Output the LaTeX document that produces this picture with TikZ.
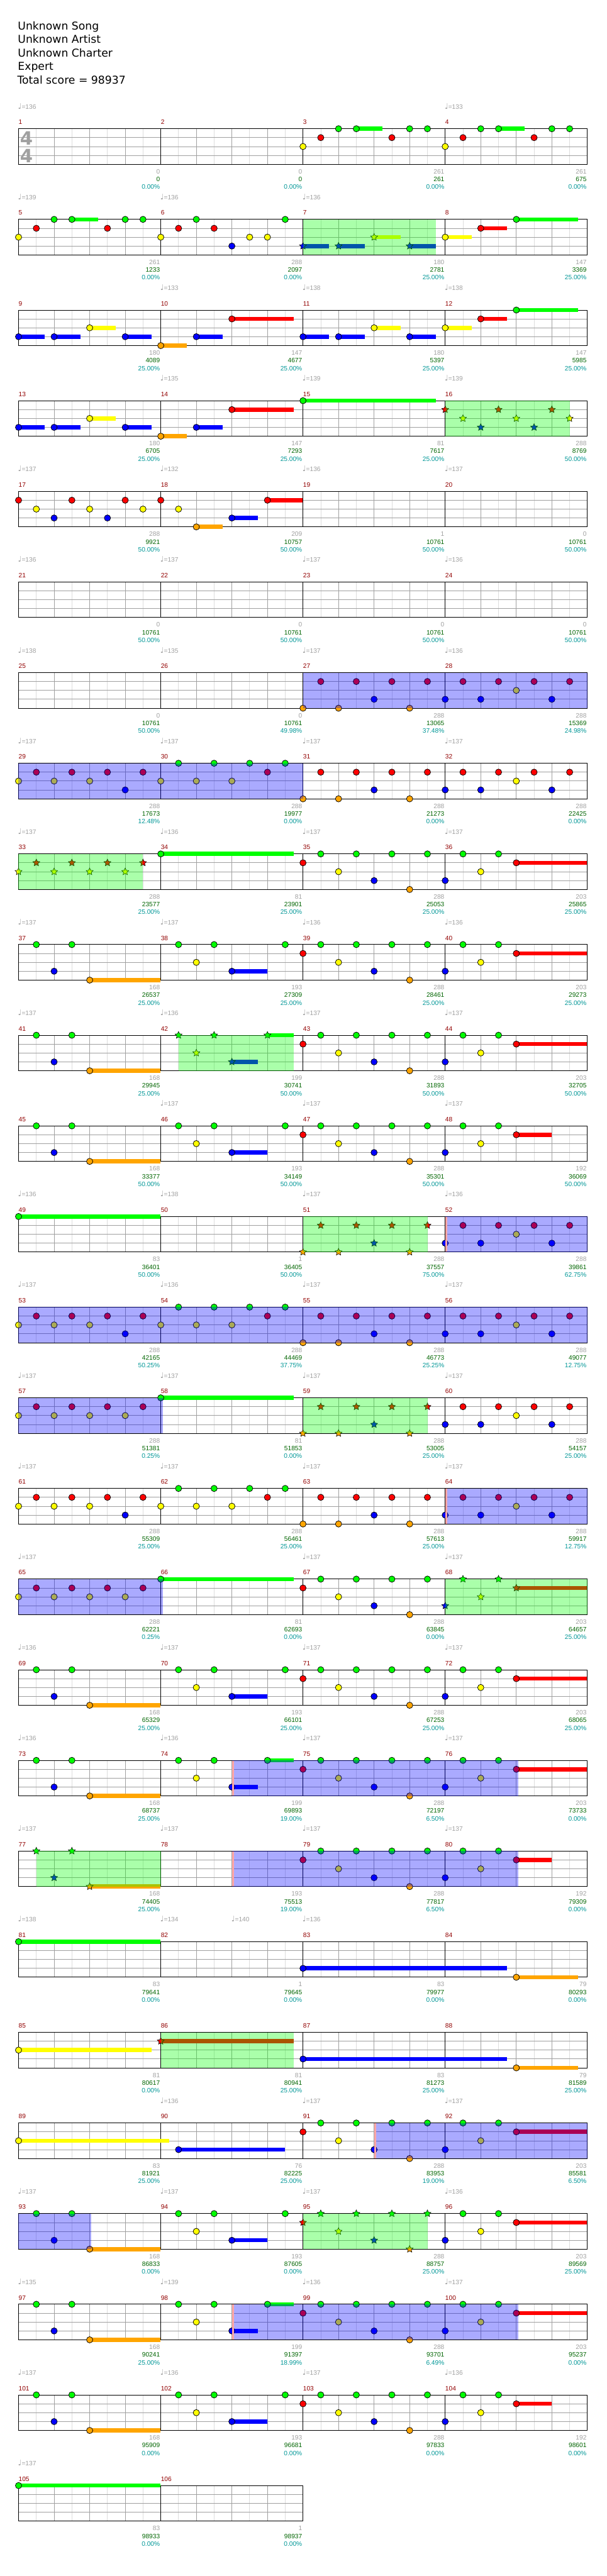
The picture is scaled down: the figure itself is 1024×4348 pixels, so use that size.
\documentclass[tikz,border=0pt]{standalone}
\usepackage{fontspec}
\setmainfont{DejaVu Sans}
\newfontfamily\labelfont{Liberation Sans}
\usepackage{tikz}
\usetikzlibrary{shapes.geometric}

\definecolor{fretgreen}{RGB}{0,255,0}
\definecolor{fretred}{RGB}{255,0,0}
\definecolor{fretyellow}{RGB}{255,255,0}
\definecolor{fretblue}{RGB}{0,0,255}
\definecolor{fretorange}{RGB}{255,165,0}
\colorlet{lane0}{fretgreen}
\colorlet{lane1}{fretred}
\colorlet{lane2}{fretyellow}
\colorlet{lane3}{fretblue}
\colorlet{lane4}{fretorange}
\definecolor{barnum}{RGB}{145,0,0}
\definecolor{softgray}{RGB}{160,160,160}
\definecolor{halfgray}{RGB}{221,221,221}
\definecolor{scoregreen}{RGB}{0,100,0}
\definecolor{pctcyan}{RGB}{0,150,150}

% note patterns: position (eighths) / lane (0 green ... 4 orange) / sustain end
\def\patIntro{0/2/0, 1/1/0, 2/0/0, 3/0/4.5, 5/1/0, 6/0/0, 7/0/0}
\def\patRun{0/2/0, 1/1/0, 2/0/0, 3/1/0, 4/3/0, 5/2/0, 6/2/0, 7/0/0}
\def\patBlueY{0/3/1.5, 2/3/3.5, 4/2/5.5, 6/3/7.5}
\def\patClimb{0/2/1.5, 2/1/3.5, 4/0/7.5}
\def\patDrop{0/4/1.5, 2/3/3.5, 4/1/7.5}
\def\patHoldG{0/0/7.5}
\def\patLongG{0/0/8}
\def\patRYB{0/1/0, 1/2/0, 2/3/0, 3/1/0, 4/2/0, 5/3/0, 6/1/0, 7/2/0}
\def\patFill{0/1/0, 1/2/0, 2/4/3.5, 4/3/5.5, 6/1/8}
\def\patOR{0/4/0, 1/1/0, 2/4/0, 3/1/0, 4/3/0, 5/1/0, 6/4/0, 7/1/0}
\def\patBR{0/3/0, 1/1/0, 2/3/0, 3/1/0, 4/2/0, 5/1/0, 6/3/0, 7/1/0}
\def\patYRB{0/2/0, 1/1/0, 2/2/0, 3/1/0, 4/2/0, 5/1/0, 6/3/0, 7/1/0}
\def\patYG{0/2/0, 1/0/0, 2/2/0, 3/0/0, 4/2/0, 5/0/0, 6/1/0, 7/0/0}
\def\patYR{0/2/0, 1/1/0, 2/2/0, 3/1/0, 4/2/0, 5/1/0, 6/2/0, 7/1/0}
\def\patVerseA{1/0/0, 2/3/0, 3/0/0, 4/4/8}
\def\patVerseB{1/0/0, 2/2/0, 3/0/0, 4/3/6, 7/0/0}
\def\patVerseBs{1/0/0, 2/2/0, 3/0/0, 4/3/5.5, 6/0/7.5}
\def\patVerseC{0/1/0, 1/0/0, 2/2/0, 3/0/0, 4/3/0, 5/0/0, 6/4/0, 7/0/0}
\def\patVerseD{0/3/0, 1/0/0, 2/2/0, 3/0/0, 4/1/8}
\def\patVerseDs{0/3/0, 1/0/0, 2/2/0, 3/0/0, 4/1/6}
\def\patBlueHold{0/3/11.5}
\def\patOrangeHold{4/4/7.5}
\def\patYellowHold{0/2/7.5}
\def\patRedHold{0/1/7.5}
\def\patYellowLong{0/2/8.5}
\def\patBlueLate{1/3/7}

% one measure of gems: measure, pattern, gem style
\newcommand\drawbar[3]{%
  \pgfmathsetmacro\mx{31.3+240*mod(#1-1,4)}
  \pgfmathsetmacro\my{217.3+153*floor((#1-1)/4)}
  \foreach \p/\l/\e in #2 {
    \ifdim\e pt>0pt
      \draw[sustain, draw=lane\l] (\mx+30*\p,\my+15*\l) -- (\mx+30*\e-0.6,\my+15*\l);
    \fi
  }
  \foreach \p/\l/\e in #2 {
    \node[#3, fill=lane\l] (g#1-\p-\l) at (\mx+30*\p,\my+15*\l) {};
  }
}

\tikzset{
  staffbox/.style={draw=black, line width=1pt},
  laneline/.style={draw=softgray, line width=0.9pt},
  halfline/.style={draw=halfgray, line width=0.9pt},
  beatline/.style={draw=softgray, line width=0.9pt},
  barline/.style={draw=black, line width=1pt},
  sustain/.style={line width=7pt},
  gem/.style={circle, draw=black, line width=0.8pt, minimum size=10.6pt, inner sep=0pt},
  stargem/.style={star, star points=5, star point ratio=2.1, draw=black, line width=0.6pt,
                  minimum size=12.5pt, inner sep=0pt},
  spphrase/.style={fill=fretgreen, fill opacity=0.333},
  spactive/.style={fill=fretblue, fill opacity=0.333},
  spstart/.style={fill=fretred!35},
  smalltext/.style={inner sep=0pt, font=\labelfont\fontsize{10.8}{12}\selectfont},
  barnumber/.style={smalltext, text=barnum, anchor=base west},
  tempo/.style={inner sep=0pt, text=softgray, anchor=base west},
  countlabel/.style={smalltext, anchor=base east},
  header/.style={inner sep=0pt, anchor=base west, font=\fontsize{18.3}{22}\selectfont}
}

\begin{document}
\begin{tikzpicture}[x=1pt, y=-1pt]
    \useasboundingbox (0,0) rectangle (1024,4348);

    % Song header
    \node[header] (song) at (30,50) {Unknown Song};
    \node[header] (artist) at (30,72.7) {Unknown Artist};
    \node[header] (charter) at (30,95.7) {Unknown Charter};
    \node[header] (diff) at (30,118.7) {Expert};
    \node[header] (total) at (29,141.7) {Total score = 98937};

    % Staff rows (4 measures each, last row 2)
    \foreach \r in {0,...,26} {
        \ifnum\r=26 \def\nm{2}\else\def\nm{4}\fi
        \pgfmathsetmacro\rowy{217.3+153*\r}
        \pgfmathtruncatemacro\nk{8*\nm-1}
        \pgfmathtruncatemacro\nb{4*\nm-1}
        \pgfmathtruncatemacro\nl{\nm-1}
        \foreach \k in {1,...,\nk}
            \draw[halfline] (31.3+30*\k,\rowy) -- ++(0,60);
        \foreach \k in {1,...,\nb}
            \draw[beatline] (31.3+60*\k,\rowy) -- ++(0,60);
        \foreach \j in {1,2,3}
            \draw[laneline] (31.3,\rowy+15*\j) -- ++(240*\nm,0);
        \foreach \k in {1,...,\nl}
            \draw[barline] (31.3+240*\k,\rowy) -- ++(0,60);
        \draw[staffbox] (31.3,\rowy) rectangle ++(240*\nm,60);
    }

    % Time signature
    \node[text=softgray, font=\bfseries\fontsize{31}{31}\selectfont, inner sep=0pt] (sigtop) at (44.5,233.5) {4};
    \node[text=softgray, font=\bfseries\fontsize{31}{31}\selectfont, inner sep=0pt] (sigbot) at (44.5,263.5) {4};

    % Measure numbers
    \foreach \m in {1,...,106} {
        \pgfmathsetmacro\mx{31.3+240*mod(\m-1,4)}
        \pgfmathsetmacro\my{217.3+153*floor((\m-1)/4)}
        \node[barnumber] (num\m) at (\mx,\my-7.3) {\m};
    }

    % Tempo marks: measure / offset / bpm
    \foreach \m/\o/\bpm in {1/0/136, 4/0/133, 5/0/139, 6/0/136, 7/0/136, 10/0/133, 11/0/138, 12/0/138,
        14/0/135, 15/0/139, 16/0/139, 17/0/137, 18/0/132, 19/0/136, 20/0/137, 21/0/136, 22/0/137,
        23/0/137, 24/0/136, 25/0/138, 26/0/135, 27/0/137, 28/0/136, 29/0/137, 30/0/137, 31/0/137,
        32/0/137, 33/0/137, 34/0/136, 35/0/137, 36/0/137, 37/0/137, 38/0/137, 39/0/136, 40/0/136,
        41/0/137, 42/0/136, 43/0/137, 44/0/137, 46/0/137, 47/0/137, 48/0/137, 49/0/136, 50/0/138,
        51/0/137, 52/0/136, 53/0/137, 54/0/136, 55/0/137, 56/0/137, 57/0/137, 58/0/137, 59/0/137,
        60/0/137, 61/0/137, 62/0/137, 63/0/137, 64/0/137, 65/0/137, 67/0/137, 68/0/137, 69/0/136,
        70/0/137, 71/0/137, 72/0/137, 73/0/136, 74/0/136, 75/0/137, 76/0/137, 77/0/137, 78/0/137,
        79/0/137, 80/0/137, 81/0/138, 82/0/134, 82/4/140, 83/0/136, 90/0/136, 91/0/137, 92/0/137,
        93/0/137, 94/0/137, 95/0/137, 96/0/136, 97/0/135, 98/0/139, 99/0/136, 100/0/137, 101/0/137,
        102/0/136, 103/0/137, 104/0/136, 105/0/137} {
        \pgfmathsetmacro\tx{31.3+240*mod(\m-1,4)+30*\o}
        \pgfmathsetmacro\ty{217.3+153*floor((\m-1)/4)-33.4}
        \node[tempo] (t\m-\o) at (\tx-1,\ty) {\fontsize{13}{13}\selectfont ♩\labelfont\fontsize{10.8}{12}\selectfont=\bpm};
    }

    % Counts under each measure: measure / notes / score / star %
    \foreach \m/\g/\s/\c in {1/0/0/0.00, 2/0/0/0.00, 3/261/261/0.00, 4/261/675/0.00,
        5/261/1233/0.00, 6/288/2097/0.00, 7/180/2781/25.00, 8/147/3369/25.00,
        9/180/4089/25.00, 10/147/4677/25.00, 11/180/5397/25.00, 12/147/5985/25.00,
        13/180/6705/25.00, 14/147/7293/25.00, 15/81/7617/25.00, 16/288/8769/50.00,
        17/288/9921/50.00, 18/209/10757/50.00, 19/1/10761/50.00, 20/0/10761/50.00,
        21/0/10761/50.00, 22/0/10761/50.00, 23/0/10761/50.00, 24/0/10761/50.00,
        25/0/10761/50.00, 26/0/10761/49.98, 27/288/13065/37.48, 28/288/15369/24.98,
        29/288/17673/12.48, 30/288/19977/0.00, 31/288/21273/0.00, 32/288/22425/0.00,
        33/288/23577/25.00, 34/81/23901/25.00, 35/288/25053/25.00, 36/203/25865/25.00,
        37/168/26537/25.00, 38/193/27309/25.00, 39/288/28461/25.00, 40/203/29273/25.00,
        41/168/29945/25.00, 42/199/30741/50.00, 43/288/31893/50.00, 44/203/32705/50.00,
        45/168/33377/50.00, 46/193/34149/50.00, 47/288/35301/50.00, 48/192/36069/50.00,
        49/83/36401/50.00, 50/1/36405/50.00, 51/288/37557/75.00, 52/288/39861/62.75,
        53/288/42165/50.25, 54/288/44469/37.75, 55/288/46773/25.25, 56/288/49077/12.75,
        57/288/51381/0.25, 58/81/51853/0.00, 59/288/53005/25.00, 60/288/54157/25.00,
        61/288/55309/25.00, 62/288/56461/25.00, 63/288/57613/25.00, 64/288/59917/12.75,
        65/288/62221/0.25, 66/81/62693/0.00, 67/288/63845/0.00, 68/203/64657/25.00,
        69/168/65329/25.00, 70/193/66101/25.00, 71/288/67253/25.00, 72/203/68065/25.00,
        73/168/68737/25.00, 74/199/69893/19.00, 75/288/72197/6.50, 76/203/73733/0.00,
        77/168/74405/25.00, 78/193/75513/19.00, 79/288/77817/6.50, 80/192/79309/0.00,
        81/83/79641/0.00, 82/1/79645/0.00, 83/83/79977/0.00, 84/79/80293/0.00,
        85/81/80617/0.00, 86/81/80941/25.00, 87/83/81273/25.00, 88/79/81589/25.00,
        89/83/81921/25.00, 90/76/82225/25.00, 91/288/83953/19.00, 92/203/85581/6.50,
        93/168/86833/0.00, 94/193/87605/0.00, 95/288/88757/25.00, 96/203/89569/25.00,
        97/168/90241/25.00, 98/199/91397/18.99, 99/288/93701/6.49, 100/203/95237/0.00,
        101/168/95909/0.00, 102/193/96681/0.00, 103/288/97833/0.00, 104/192/98601/0.00,
        105/83/98933/0.00, 106/1/98937/0.00} {
        \pgfmathsetmacro\ex{31.3+240*mod(\m-1,4)+238.7}
        \pgfmathsetmacro\by{217.3+153*floor((\m-1)/4)+60}
        \node[countlabel, text=softgray] (cnt\m) at (\ex,\by+16) {\g};
        \node[countlabel, text=scoregreen] (score\m) at (\ex,\by+29) {\s};
        \node[countlabel, text=pctcyan] (pct\m) at (\ex,\by+42) {\c\%};
    }

    % Gems and sustains
    \foreach \m in {3,4,5} {\drawbar{\m}{\patIntro}{gem}}
    \drawbar{6}{\patRun}{gem}
    \drawbar{7}{\patBlueY}{stargem}
    \foreach \m in {9,11,13} {\drawbar{\m}{\patBlueY}{gem}}
    \foreach \m in {8,12} {\drawbar{\m}{\patClimb}{gem}}
    \foreach \m in {10,14} {\drawbar{\m}{\patDrop}{gem}}
    \foreach \m in {15,34,58,66} {\drawbar{\m}{\patHoldG}{gem}}
    \foreach \m in {49,81,105} {\drawbar{\m}{\patLongG}{gem}}
    \drawbar{16}{\patRYB}{stargem}
    \drawbar{17}{\patRYB}{gem}
    \drawbar{18}{\patFill}{gem}
    \foreach \m in {27,31,55,63} {\drawbar{\m}{\patOR}{gem}}
    \foreach \m in {51,59} {\drawbar{\m}{\patOR}{stargem}}
    \foreach \m in {28,32,52,56,60,64} {\drawbar{\m}{\patBR}{gem}}
    \foreach \m in {29,53,61} {\drawbar{\m}{\patYRB}{gem}}
    \foreach \m in {30,54,62} {\drawbar{\m}{\patYG}{gem}}
    \foreach \m in {57,65} {\drawbar{\m}{\patYR}{gem}}
    \drawbar{33}{\patYR}{stargem}
    \foreach \m in {35,39,43,47,67,71,75,79,91,99,103} {\drawbar{\m}{\patVerseC}{gem}}
    \drawbar{95}{\patVerseC}{stargem}
    \foreach \m in {36,40,44,72,76,92,96,100} {\drawbar{\m}{\patVerseD}{gem}}
    \drawbar{68}{\patVerseD}{stargem}
    \foreach \m in {48,80,104} {\drawbar{\m}{\patVerseDs}{gem}}
    \foreach \m in {37,41,45,69,73,93,97,101} {\drawbar{\m}{\patVerseA}{gem}}
    \drawbar{77}{\patVerseA}{stargem}
    \foreach \m in {38,46,70,94,102} {\drawbar{\m}{\patVerseB}{gem}}
    \foreach \m in {74,98} {\drawbar{\m}{\patVerseBs}{gem}}
    \drawbar{42}{\patVerseBs}{stargem}
    \foreach \m in {83,87} {\drawbar{\m}{\patBlueHold}{gem}}
    \foreach \m in {84,88} {\drawbar{\m}{\patOrangeHold}{gem}}
    \drawbar{85}{\patYellowHold}{gem}
    \drawbar{86}{\patRedHold}{stargem}
    \drawbar{89}{\patYellowLong}{gem}
    \drawbar{90}{\patBlueLate}{gem}

    % Star power phrases: from measure/pos to measure/pos
    \foreach \ma/\pa/\mb/\pb in {7/0/7/7.47, 16/0/16/7, 33/0/33/7, 42/1/42/7.47, 51/0/51/7,
        59/0/59/7, 68/0/68/8, 77/1/77/8, 86/0/86/7.47, 95/0/95/7} {
        \pgfmathsetmacro\xa{31.3+240*mod(\ma-1,4)+30*\pa}
        \pgfmathsetmacro\xb{31.3+240*mod(\mb-1,4)+30*\pb}
        \pgfmathsetmacro\ya{217.3+153*floor((\ma-1)/4)}
        \fill[spphrase] (\xa,\ya) rectangle (\xb,\ya+60);
    }

    % Star power activations
    \foreach \ma/\pa/\mb/\pb in {27/0/28/8, 29/0/30/8, 52/0/52/8, 53/0/56/8, 57/0/57/8.13,
        64/0/64/8, 65/0/65/8.13, 74/4/76/4.13, 78/4/80/4.13, 91/4/92/8, 93/0/93/4.1,
        98/4/100/4.13} {
        \pgfmathsetmacro\xa{31.3+240*mod(\ma-1,4)+30*\pa}
        \pgfmathsetmacro\xb{31.3+240*mod(\mb-1,4)+30*\pb}
        \pgfmathsetmacro\ya{217.3+153*floor((\ma-1)/4)}
        \fill[spactive] (\xa,\ya) rectangle (\xb,\ya+60);
    }
    \foreach \ma/\pa in {52/0, 64/0, 74/4, 78/4, 91/4, 98/4} {
        \pgfmathsetmacro\xa{31.3+240*mod(\ma-1,4)+30*\pa}
        \pgfmathsetmacro\ya{217.3+153*floor((\ma-1)/4)}
        \fill[spstart] (\xa+0.5,\ya+0.5) rectangle (\xa+3.5,\ya+59.5);
    }
\end{tikzpicture}
\end{document}
